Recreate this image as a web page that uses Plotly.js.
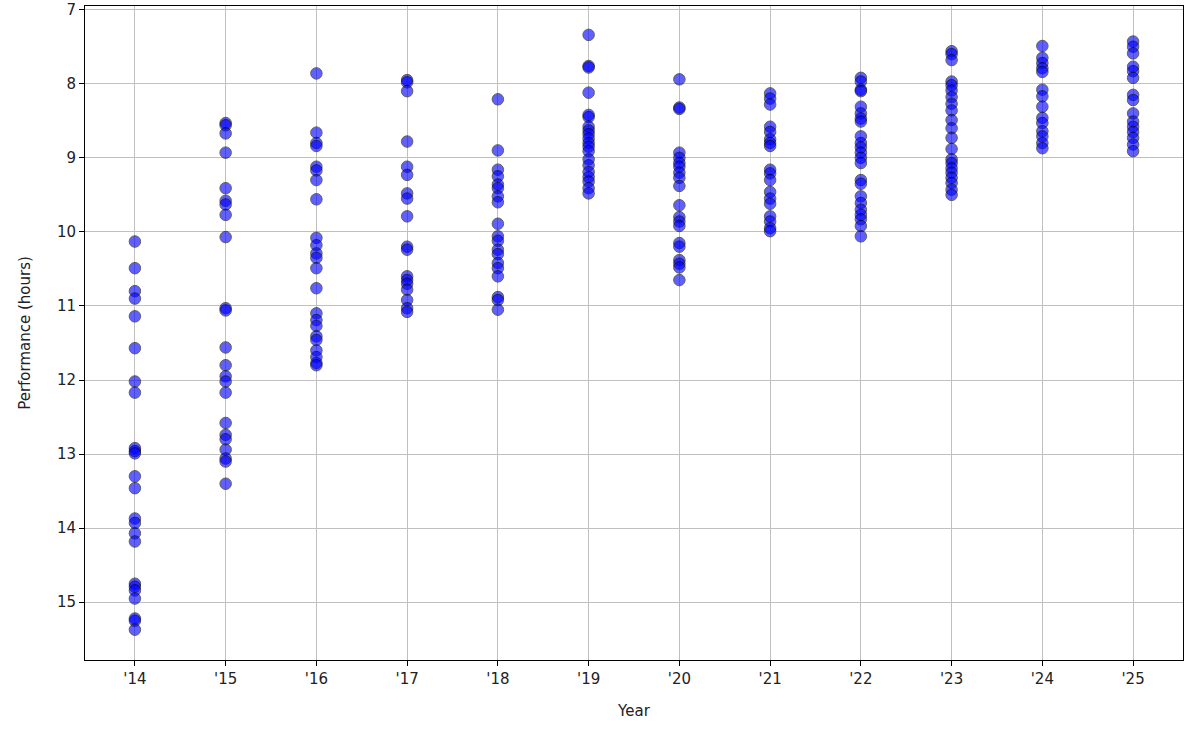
<!DOCTYPE html>
<html>
<head>
<meta charset="utf-8">
<script src="https://cdn.plot.ly/plotly-3.0.1.min.js"></script>
<style>html,body{margin:0;padding:0;background:#fff;}#chart{width:1200px;height:732px;}</style>
</head>
<body>
<div id="chart"></div>
<script>
const years = [14, 15, 16, 17, 18, 19, 20, 21, 22, 23, 24, 25];
const tickLabels = ["'14", "'15", "'16", "'17", "'18", "'19", "'20", "'21", "'22", "'23", "'24", "'25"];

const perf14 = [10.13, 10.49, 10.8, 10.9, 11.14, 11.57, 12.02, 12.17, 12.92, 12.96, 12.99, 13.3, 13.46, 13.87, 13.93, 14.07, 14.18, 14.75, 14.79, 14.84, 14.95, 15.22, 15.25, 15.37];
const perf15 = [8.53, 8.56, 8.67, 8.93, 9.41, 9.58, 9.63, 9.77, 10.07, 11.03, 11.06, 11.56, 11.8, 11.95, 12.02, 12.17, 12.58, 12.74, 12.8, 12.94, 13.06, 13.1, 13.4];
const perf16 = [7.86, 8.66, 8.8, 8.84, 9.12, 9.17, 9.3, 9.56, 10.08, 10.18, 10.29, 10.35, 10.49, 10.76, 11.1, 11.19, 11.27, 11.41, 11.46, 11.6, 11.69, 11.77, 11.8];
const perf17 = [7.95, 7.98, 8.1, 8.78, 9.12, 9.23, 9.48, 9.55, 9.79, 10.2, 10.24, 10.6, 10.65, 10.7, 10.78, 10.92, 11.03, 11.08];
const perf18 = [8.21, 8.9, 9.16, 9.25, 9.36, 9.41, 9.52, 9.6, 9.89, 10.06, 10.12, 10.24, 10.3, 10.42, 10.49, 10.6, 10.88, 10.92, 11.05];
const perf19 = [7.34, 7.76, 7.78, 8.12, 8.42, 8.45, 8.58, 8.63, 8.68, 8.74, 8.8, 8.85, 8.91, 9.02, 9.1, 9.19, 9.26, 9.32, 9.41, 9.48];
const perf20 = [7.94, 8.32, 8.34, 8.93, 9.0, 9.07, 9.12, 9.2, 9.27, 9.38, 9.64, 9.8, 9.86, 9.92, 10.15, 10.2, 10.38, 10.43, 10.48, 10.65];
const perf21 = [8.13, 8.2, 8.28, 8.58, 8.65, 8.75, 8.8, 8.84, 9.16, 9.21, 9.3, 9.46, 9.55, 9.62, 9.79, 9.86, 9.95, 9.99];
const perf22 = [7.92, 7.97, 8.08, 8.1, 8.31, 8.4, 8.47, 8.51, 8.71, 8.8, 8.86, 8.93, 9.0, 9.07, 9.3, 9.35, 9.52, 9.61, 9.7, 9.77, 9.83, 9.92, 10.06];
const perf23 = [7.56, 7.6, 7.68, 7.97, 8.02, 8.09, 8.18, 8.27, 8.36, 8.49, 8.6, 8.73, 8.88, 9.02, 9.07, 9.14, 9.2, 9.27, 9.34, 9.43, 9.5];
const perf24 = [7.49, 7.65, 7.72, 7.79, 7.84, 8.08, 8.17, 8.31, 8.46, 8.53, 8.64, 8.71, 8.8, 8.87];
const perf25 = [7.43, 7.5, 7.59, 7.77, 7.83, 7.92, 8.15, 8.22, 8.4, 8.51, 8.58, 8.65, 8.73, 8.82, 8.91];

const perfByYear = [perf14, perf15, perf16, perf17, perf18, perf19, perf20, perf21, perf22, perf23, perf24, perf25];

const xs = [], ys = [];
perfByYear.forEach((arr, i) => {
  arr.forEach(v => { xs.push(years[i]); ys.push(v); });
});

const font = {family: 'DejaVu Sans, sans-serif', size: 15, color: '#222'};

const trace = {
  type: 'scatter',
  mode: 'markers',
  x: xs,
  y: ys,
  marker: {size: 11.5, color: 'rgb(0,0,255)', opacity: 0.62, line: {color: 'black', width: 1}},
  hoverinfo: 'x+y'
};

const axisCommon = {
  showline: true, linecolor: 'black', linewidth: 1, mirror: true,
  showgrid: true, gridcolor: '#c0c0c0', gridwidth: 1,
  ticks: 'outside', ticklen: 5, tickcolor: 'black', tickwidth: 1,
  zeroline: false, tickfont: font
};

const layout = {
  width: 1200, height: 732,
  margin: {l: 85, r: 17, t: 6, b: 72},
  paper_bgcolor: 'white', plot_bgcolor: 'white',
  showlegend: false,
  font: font,
  xaxis: Object.assign({}, axisCommon, {
    range: [13.45, 25.55],
    tickmode: 'array', tickvals: years, ticktext: tickLabels,
    title: {text: 'Year', font: font, standoff: 18}
  }),
  yaxis: Object.assign({}, axisCommon, {
    range: [15.78, 6.95],
    tickmode: 'linear', tick0: 7, dtick: 1,
    title: {text: 'Performance (hours)', font: font, standoff: 22}
  })
};

Plotly.newPlot('chart', [trace], layout, {displayModeBar: false, staticPlot: true});
</script>
</body>
</html>
